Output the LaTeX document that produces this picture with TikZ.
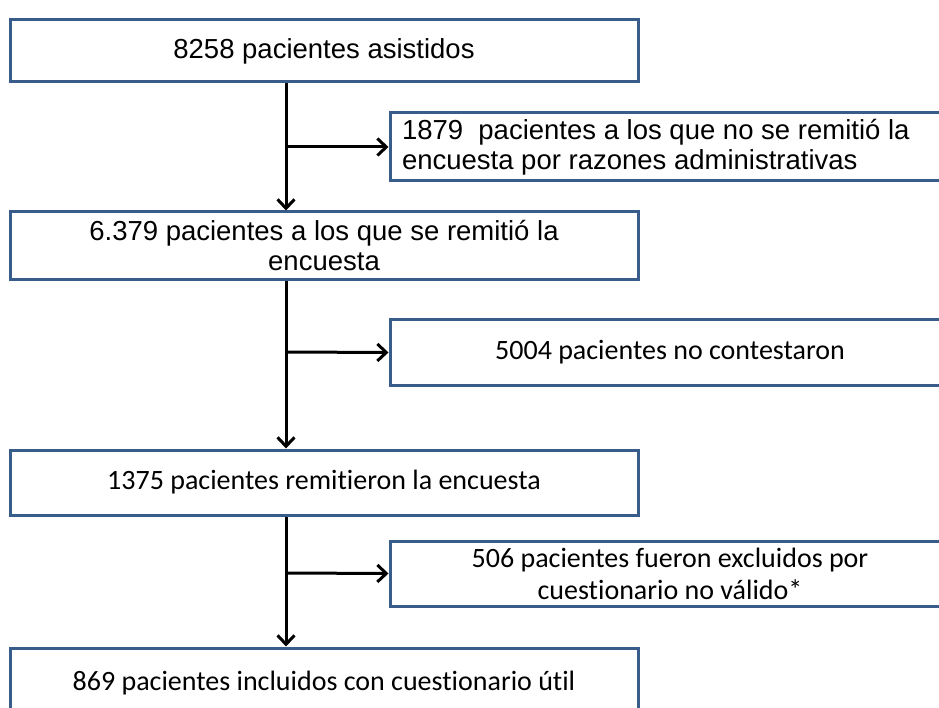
\documentclass[tikz,border=0pt]{standalone}
\usepackage{fontspec}
\setmainfont{Liberation Sans}
\newfontfamily\calib[Ligatures=NoCommon]{Carlito}
\usetikzlibrary{arrows.meta}
\definecolor{boxblue}{RGB}{56,93,138}
\begin{document}
\begin{tikzpicture}[x=1pt,y=-1pt,
  box/.style={draw=boxblue, line width=3pt, fill=white, inner sep=0pt, align=center},
  arialtxt/.style={font=\fontsize{27.5}{30}\selectfont},
  calibtxt/.style={font=\calib\fontsize{28}{32}\selectfont},
  arr/.style={draw=black, line width=3pt, -{Straight Barb[length=9pt,width=17pt,line width=3pt]}}
]
\useasboundingbox (0,0) rectangle (939,708);
\clip (0,0) rectangle (939,708);
\fill[white] (0,0) rectangle (939,708);

\node[box, arialtxt, minimum width=628, minimum height=62] (b1) at (324,51) {8258 pacientes asistidos};
\node[box, arialtxt, minimum width=560, minimum height=68, text width=536, align=flush left] (r1) at (670,147)
  {1879\ \ pacientes a los que no se remitió la\\encuesta por razones administrativas};
\node[box, arialtxt, minimum width=628, minimum height=68] (b2) at (324,246)
  {6.379 pacientes a los que se remitió la\\encuesta};
\node[box, calibtxt, minimum width=560, minimum height=65] (r2) at (670,352.5) {5004 pacientes no contestaron};
\node[box, calibtxt, minimum width=628, minimum height=65] (b3) at (324,482.5) {1375 pacientes remitieron la encuesta};
\node[box, calibtxt, minimum width=560, minimum height=65] (r3) at (670,573.5)
  {506 pacientes fueron excluidos por\\cuestionario no válido*};
\node[box, calibtxt, minimum width=628, minimum height=70] (b4) at (324,683) {869 pacientes incluidos con cuestionario útil};

\coordinate (s) at (286,0);
\coordinate (j1) at (286,147);
\coordinate (j2) at (286,352);
\coordinate (j3) at (286,573);

\draw[arr] (b1.south -| s) -- (b2.north -| s);
\draw[arr] (j1) -- (r1.west);
\draw[arr] (b2.south -| s) -- (b3.north -| s);
\draw[arr] (j2) -- (r2.west);
\draw[arr] (b3.south -| s) -- (b4.north -| s);
\draw[arr] (j3) -- (r3.west);
\end{tikzpicture}
\end{document}
